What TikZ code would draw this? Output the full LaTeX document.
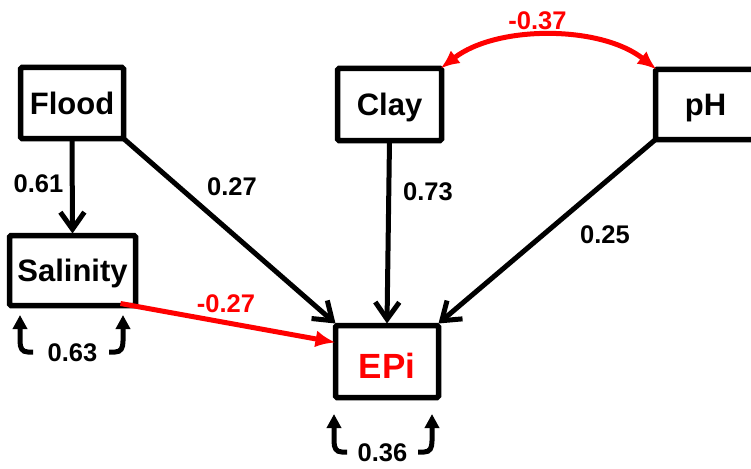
\documentclass[tikz,border=0pt]{standalone}
\usepackage{fontspec}
\setmainfont{Liberation Sans}
\usetikzlibrary{arrows.meta,calc}
\begin{document}
\begin{tikzpicture}[x=1pt,y=-1pt,
  box/.style={draw, line width=5.5pt, rectangle, rounded corners=1.5pt, outer sep=0pt, inner sep=0pt,
    font=\fontsize{31}{36}\selectfont\bfseries, text height=22.2pt, text depth=0pt},
  lnk/.style={draw, line width=5pt, line cap=round, line join=round,
    -{Straight Barb[length=17pt,width=24pt,line join=miter]}},
  redlnk/.style={draw=red, line width=5pt, -{Latex[length=20pt,width=17pt]}},
  corr/.style={draw=red, line width=5pt, {Latex[length=19pt,width=16pt]}-{Latex[length=19pt,width=16pt]}},
  resid/.style={draw, line width=5pt, -{Triangle[length=14pt,width=14pt]}},
  lbl/.style={font=\fontsize{25.5}{30}\selectfont\bfseries, inner sep=0pt}
]
\useasboundingbox (0,0) rectangle (751,468);

% boxes
\node[box, minimum width=103pt, minimum height=71pt] (flood) at (72,103) {Flood};
\node[box, minimum width=126pt, minimum height=70pt] (sal) at (72.5,270.5) {Salinity};
\node[box, minimum width=104pt, minimum height=72pt] (clay) at (389.5,104.5) {Clay};
\node[box, minimum width=100pt, minimum height=70pt] (ph) at (705.5,104.5) {pH};
\node[box, minimum width=103pt, minimum height=72pt, text=red,
  font=\fontsize{35}{40}\selectfont\bfseries, text height=33pt] (epi) at (387,361.5) {EPi};

% paths
\coordinate (salin) at ($(sal.north)+(0,-2)$);
\coordinate (epinw) at ($(epi.north west)+(0,-2)$);
\coordinate (epin) at ($(epi.north)+(0,-2)$);
\coordinate (epine) at ($(epi.north east)+(0,-2)$);
\draw[lnk] (flood.south) -- (salin);
\draw[lnk] (flood.south east) -- (epinw);
\draw[lnk] (clay.south) -- (epin);
\draw[lnk] (ph.south west) -- (epine);
\coordinate (salout) at ($(sal.south east)+(-15,-2)$);
\coordinate (epiin) at ($(epi.west)+(0,-19)$);
\draw[redlnk] (salout) -- (epiin);

% correlation
\draw[corr] ($(clay.north east)+(-1,0)$) .. controls +(57,-44) and +(-55,-44) .. ($(ph.north west)+(1,0)$);

% residuals
\coordinate (s1) at (20,315);
\coordinate (s2) at (123,315);
\coordinate (e1) at (334,414);
\coordinate (e2) at (432,414);
\draw[resid] (33,352) -- (28,352) .. controls (22,352) and (20,348) .. (20,341) -- (s1);
\draw[resid] (109,352) -- (115,352) .. controls (121,352) and (123,348) .. (123,341) -- (s2);
\draw[resid] (347,452) -- (342,452) .. controls (336,452) and (334,448) .. (334,441) -- (e1);
\draw[resid] (418,452) -- (424,452) .. controls (430,452) and (432,448) .. (432,441) -- (e2);

% labels
\node[lbl] (l61) at (38.5,184) {0.61};
\node[lbl] (l27) at (232,187) {0.27};
\node[lbl] (l73) at (428,192) {0.73};
\node[lbl] (l25) at (605,234.5) {0.25};
\node[lbl, text=red] (lm27) at (226,304) {-0.27};
\node[lbl, text=red] (lm37) at (537.5,20.5) {-0.37};
\node[lbl] (l63) at (72.5,352.5) {0.63};
\node[lbl] (l36) at (382.5,452.5) {0.36};
\end{tikzpicture}
\end{document}
